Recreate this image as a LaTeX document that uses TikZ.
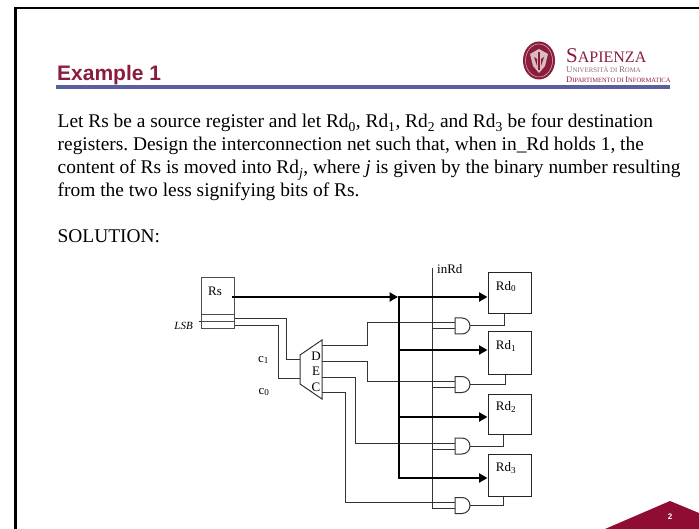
\documentclass[tikz,border=0pt]{standalone}
\usepackage{fontspec}
\setmainfont{Liberation Serif}
\newfontfamily\slidesans{Liberation Sans}
\usetikzlibrary{arrows.meta}

\definecolor{titlered}{HTML}{8A1C3C}
\definecolor{slidered}{HTML}{8F0C32}
\definecolor{barblue}{HTML}{5A5F9E}
\definecolor{logogray}{HTML}{8A6A72}
\definecolor{sealpale}{HTML}{D8BCC2}

\newcommand{\px}[1]{\fontsize{#1}{#1}\selectfont}

\tikzset{
  bodytext/.style={anchor=base west,inner sep=0pt,font=\frenchspacing\fontsize{19.4}{23}\selectfont},
  netlabel/.style={inner sep=0pt,font=\px{13}},
  logotext/.style={anchor=base west,inner sep=0pt},
  regbox/.style={draw=black!85,line width=1pt,minimum width=43pt,inner sep=0pt},
  rsbox/.style={draw=black!70,line width=1pt,minimum width=33pt,inner sep=0pt},
  wire/.style={draw=black!80,line width=1pt},
  busline/.style={draw=black,line width=2.7pt},
  busarrow/.style={busline,-{Triangle[length=8.5pt,width=9pt]}},
  andbox/.style={minimum height=16pt,minimum width=15pt,inner sep=0pt,outer sep=0pt},
}

\begin{document}
\begin{tikzpicture}[x=1pt,y=-1pt]

\useasboundingbox (0,0) rectangle (699,529);

% ---- Slide frame ----
\draw[black,line width=2.5pt] (15.5,529) -- (15.5,8) -- (699,8);
\fill[barblue] (56,85) rectangle (670,89);
\fill[slidered] (605,529) -- (670,501) -- (699,513) -- (699,529) -- cycle;
\node[inner sep=0pt,white,font=\slidesans\bfseries\px{8}] (pagenum) at (670,517) {2};
\node[anchor=base west,inner sep=0pt,titlered,font=\slidesans\bfseries\px{21}] (slidetitle) at (57,81) {Example 1};

% ---- Logo ----
\fill[titlered] (539,60.5) ellipse (16 and 19);
\draw[sealpale,line width=0.5pt] (539,60.5) ellipse (13.5 and 16.5);
\fill[sealpale] (539,49) -- (548,54) -- (545,66) -- (539,73) -- (533,66) -- (530,54) -- cycle;
\fill[titlered] (538,52) rectangle (540,70);
\fill[titlered] (534,57) -- (537,59) -- (537,66) -- cycle;
\fill[titlered] (544,57) -- (541,59) -- (541,66) -- cycle;
\node[logotext,titlered] (logoname) at (566,63) {{\px{21}S}{\px{16}APIENZA}};
\node[logotext,logogray] (logouni) at (566,73) {{\px{8.8}U}{\px{6.8}NIVERSITÀ DI }{\px{8.8}R}{\px{6.8}OMA}};
\node[logotext,titlered] (logodept) at (566,83) {{\px{8.5}D}{\px{6.5}IPARTIMENTO DI }{\px{8.5}I}{\px{6.5}NFORMATICA}};

% ---- Text ----
\node[bodytext] (linea) at (57.5,128) {Let Rs be a source register and let Rd\textsubscript{0}, Rd\textsubscript{1}, Rd\textsubscript{2} and Rd\textsubscript{3} be four destination};
\node[bodytext] (lineb) at (57.5,151) {registers. Design the interconnection net such that, when in\_Rd holds 1, the};
\node[bodytext] (linec) at (57.5,174) {content of Rs is moved into Rd\textsubscript{\textit{j}}, where \textit{j} is given by the binary number resulting};
\node[bodytext] (lined) at (57.5,197) {from the two less signifying bits of Rs.};
\node[bodytext] (linee) at (57.5,243) {SOLUTION:};

% ---- Source register ----
\node[rsbox,minimum height=37pt] (rsreg) at (217.5,296.5) {};
\node[rsbox,minimum height=7pt] (rsbita) at (217.5,318.5) {};
\node[rsbox,minimum height=7pt] (rsbitb) at (217.5,325.5) {};
\node[netlabel] (rslabel) at (215,291) {Rs};
\node[anchor=east,inner sep=0pt,font=\itshape\px{11}] (lsblabel) at (193,326) {LSB};
\draw[wire] ([xshift=-2pt]rsbitb.north west) -- (rsbitb.north west);

% ---- Decoder ----
\coordinate (decin1) at (300,360);
\coordinate (decin0) at (300,378);
\coordinate (decouta) at (322,346);
\coordinate (decoutb) at (322,362);
\coordinate (decoutc) at (322,377);
\coordinate (decoutd) at (322,392);
\draw[wire] (300,355) -- (322,340) -- (322,399) -- (300,384) -- cycle;
\node[netlabel] (decd) at (316,356) {D};
\node[netlabel] (dece) at (316,371) {E};
\node[netlabel] (decc) at (316,387) {C};
\node[netlabel] (cone) at (263.5,360) {c\textsubscript{1}};
\node[netlabel] (czero) at (264,392) {c\textsubscript{0}};

\draw[wire] (rsbita.east) -- ++(52,0) |- (decin1);
\draw[wire] (rsbitb.east) -- ++(44,0) |- (decin0);

% ---- Destination registers ----
\foreach \name/\y/\h/\idx in {rda/293.5/41/0,rdb/353/42/1,rdc/414/40/2,rdd/475/42/3}{
    \node[regbox,minimum height=\h pt] (\name) at (509.5,\y) {};
    \node[netlabel] (\name-label) at (506,\y-7) {Rd\textsubscript{\idx}};
}

% ---- AND gates ----
\foreach \g/\y in {gatea/326,gateb/384.5,gatec/446,gated/505.5}{
    \node[andbox] (\g) at (462.5,\y) {};
    \draw[wire] (\g.north west) -- ++(7,0) arc[start angle=90,end angle=-90,radius=8pt] -- ++(-7,0) -- cycle;
    \coordinate (\g-top) at ([yshift=-3pt]\g.west);
    \coordinate (\g-bot) at ([yshift=3pt]\g.west);
}

% ---- Enable line ----
\coordinate (inrdtop) at (432,268);
\node[anchor=west,inner sep=0pt,font=\px{13}] (inrdlabel) at (437,269) {inRd};
\draw[wire] (inrdtop) |- (gated-top);
\foreach \g in {gatea,gateb,gatec}{
    \draw[wire] (inrdtop |- \g-top) -- (\g-top);
}

% ---- Decoder outputs ----
\draw[wire] (decouta) -- ++(45,0) |- (gatea-bot);
\draw[wire] (decoutb) -- ++(45,0) |- (gateb-bot);
\draw[wire] (decoutc) -- ++(33,0) |- (gatec-bot);
\draw[wire] (decoutd) -- ++(23,0) |- (gated-bot);

% ---- Gate outputs ----
\draw[wire] (gatea.east) -| ([xshift=-5pt]rda.south);
\draw[wire] (gateb.east) -| ([xshift=-4pt]rdb.south);
\draw[wire] (gatec.east) -| ([xshift=-6pt]rdc.south);
\draw[wire] (gated.east) -| ([xshift=-6pt]rdd.south);

% ---- Data bus ----
\coordinate (busa) at (399,297);
\coordinate (busb) at (399,350);
\coordinate (busc) at (399,417);
\coordinate (busd) at (399,478);
\draw[busarrow] (232,297) -- (398,297);
\draw[busline,line cap=rect] (busa) -- (busd);
\draw[busarrow] (busa) -- (busa -| rda.west);
\draw[busarrow] (busb) -- (busb -| rdb.west);
\draw[busarrow] (busc) -- (busc -| rdc.west);
\draw[busarrow] (busd) -- (busd -| rdd.west);

\end{tikzpicture}
\end{document}
